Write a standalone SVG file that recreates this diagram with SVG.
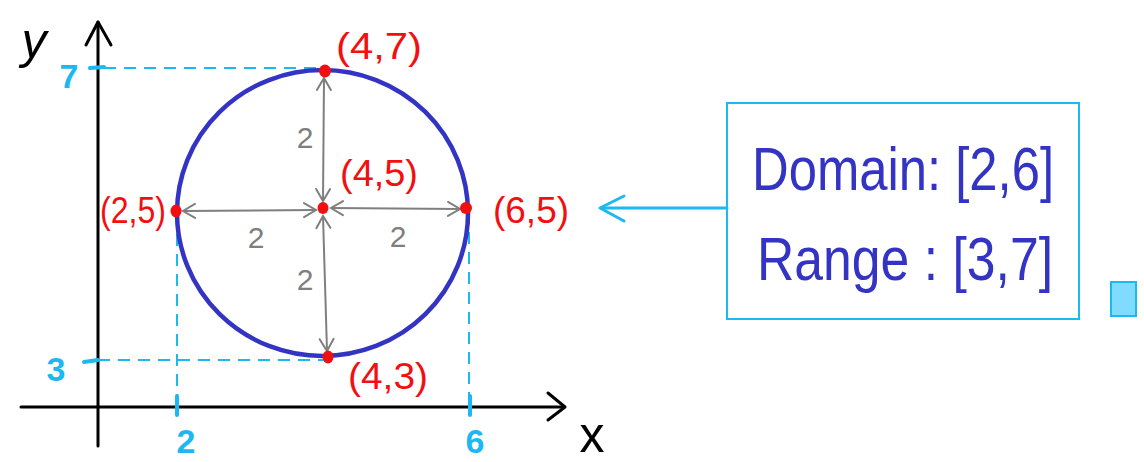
<svg xmlns="http://www.w3.org/2000/svg" width="1144" height="462" viewBox="0 0 1144 462">
<style>
.hand{font-family:"Liberation Sans","DejaVu Sans",sans-serif;}
.red{fill:#f20f0f;font-size:36px;}
.gray{fill:#7f7f7f;font-size:30px;}
.cyan{fill:#1cb8f2;font-size:34px;font-weight:bold;}
.blue{fill:#3333c4;font-size:62px;}
.dash{stroke:#1cb8f2;stroke-width:2;stroke-dasharray:12 8;fill:none;}
.tick{stroke:#1cb8f2;stroke-width:4;stroke-linecap:round;fill:none;}
.gline{stroke:#7f7f7f;stroke-width:2;fill:none;marker-start:url(#g);marker-end:url(#g);}
.dot{fill:#f20f0f;}
</style>
<defs>
<marker id="g" viewBox="-14 -9 16 18" refX="0" refY="0" markerWidth="16" markerHeight="18" markerUnits="userSpaceOnUse" orient="auto-start-reverse">
<path d="M-12,-7 L0,0 L-12,7" fill="none" stroke="#7f7f7f" stroke-width="2" stroke-linecap="round"/>
</marker>
</defs>
<rect width="1144" height="462" fill="#ffffff"/>
<g id="axes" stroke="#000" stroke-width="3" fill="none" stroke-linecap="round" stroke-linejoin="round">
<path d="M98,446 L98,22"/>
<path d="M86,45 L98,22 L111,45"/>
<path d="M21,407 L564,407"/>
<path d="M548,393 L565,407 L548,420"/>
</g>
<text x="34" y="58" class="hand" font-size="50" font-style="italic" fill="#000" text-anchor="middle">y</text>
<text x="592" y="452" class="hand" font-size="50" fill="#000" text-anchor="middle">x</text>
<g id="guides">
<path class="dash" d="M104,68 L322,68"/>
<path class="dash" d="M98,360 L326,360"/>
<path class="dash" d="M177,214 L177,400"/>
<path class="dash" d="M469,212 L469,400"/>
<path class="tick" d="M90,68 L104,67"/>
<path class="tick" d="M84,362 L98,360"/>
<path class="tick" d="M177,396 L177,415"/>
<path class="tick" d="M470,396 L470,415"/>
</g>
<g id="tick-labels" class="hand cyan" text-anchor="middle">
<text x="69" y="88">7</text>
<text x="56" y="381">3</text>
<text x="186" y="453">2</text>
<text x="475" y="453">6</text>
</g>
<g id="circle">
<ellipse cx="322.5" cy="213" rx="145.5" ry="143" fill="none" stroke="#3333c4" stroke-width="4.5"/>
</g>
<g id="connectors">
<line class="gline" x1="323" y1="201" x2="324" y2="78"/>
<line class="gline" x1="316" y1="210" x2="183" y2="211"/>
<line class="gline" x1="331" y1="208" x2="460" y2="209"/>
<line class="gline" x1="323" y1="216" x2="327" y2="351"/>
<g stroke="#1cb8f2" stroke-width="3" fill="none" stroke-linecap="round" stroke-linejoin="round">
<path d="M727,208 L601,208"/>
<path d="M624,196 L600,208 L624,221"/>
</g>
</g>
<g id="radius-labels" class="hand gray" text-anchor="middle">
<text x="305" y="148">2</text>
<text x="256" y="248">2</text>
<text x="398" y="247">2</text>
<text x="305" y="290">2</text>
</g>
<g id="points">
<g id="p-top"><ellipse class="dot" cx="325" cy="71" rx="6" ry="6.5"/><text class="hand red" x="336" y="59" textLength="86" lengthAdjust="spacingAndGlyphs">(4,7)</text></g>
<g id="p-center"><ellipse class="dot" cx="323" cy="208" rx="5.5" ry="6"/><text class="hand red" x="340" y="186" textLength="78" lengthAdjust="spacingAndGlyphs">(4,5)</text></g>
<g id="p-left"><ellipse class="dot" cx="176" cy="211" rx="5.5" ry="6.5"/><text class="hand red" x="100" y="223" textLength="66" lengthAdjust="spacingAndGlyphs">(2,5)</text></g>
<g id="p-right"><ellipse class="dot" cx="466" cy="208" rx="6" ry="6"/><text class="hand red" x="493" y="223" textLength="76" lengthAdjust="spacingAndGlyphs">(6,5)</text></g>
<g id="p-bottom"><ellipse class="dot" cx="328" cy="357" rx="5.5" ry="6.5"/><text class="hand red" x="348" y="389" textLength="80" lengthAdjust="spacingAndGlyphs">(4,3)</text></g>
</g>
<g id="info-box">
<rect x="727" y="103" width="352" height="216" fill="none" stroke="#1cb8f2" stroke-width="2"/>
<text class="hand blue" x="752" y="190" textLength="302" lengthAdjust="spacingAndGlyphs">Domain: [2,6]</text>
<text class="hand blue" x="757" y="280" textLength="296" lengthAdjust="spacingAndGlyphs">Range :  [3,7]</text>
</g>
<g id="swatch">
<rect x="1111" y="282" width="25" height="34" fill="#80dcff" stroke="#1cb8f2" stroke-width="2"/>
</g>
</svg>
